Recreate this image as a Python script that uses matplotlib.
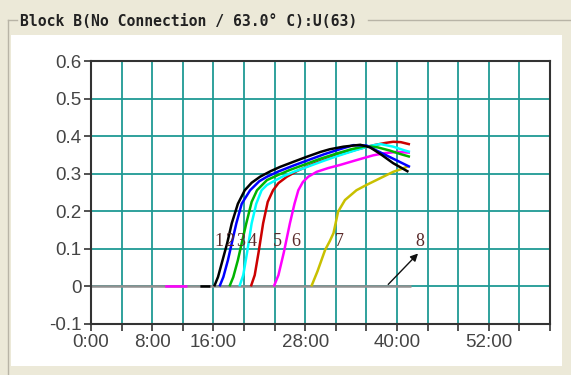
import numpy as np
import matplotlib
matplotlib.use('Agg')
from matplotlib import pyplot as plt
from matplotlib.lines import Line2D
from matplotlib.patches import Rectangle

# 時間 (分) と蛍光値
nan = np.nan
t1 = [14.3, 15.6, nan, 16.1, 16.6, 17.2, 17.8, 18.4, 19.2, 20.1, 21.0, 22.1, 23.5, 24.7, 26.5, 28.2,
      30.0, 31.2, 33.0, 35.2, 36.5, 38.0, 39.5, 41.5]
v1 = [0.0, 0.0, nan, 0.0, 0.025, 0.07, 0.115, 0.168, 0.22, 0.256, 0.276, 0.292, 0.307, 0.318, 0.332, 0.345,
      0.358, 0.365, 0.372, 0.377, 0.37, 0.35, 0.328, 0.305]
t2 = [16.8, 17.3, 17.9, 18.4, 19.0, 19.7, 20.8, 22.0, 23.0, 24.5, 26.5, 28.5, 30.5, 32.5, 34.3,
      36.0, 37.5, 39.0, 40.5, 41.7]
v2 = [0.0, 0.025, 0.07, 0.115, 0.168, 0.22, 0.256, 0.28, 0.292, 0.306, 0.322, 0.337, 0.352, 0.365, 0.376,
      0.375, 0.36, 0.345, 0.33, 0.318]
t3 = [18.1, 18.6, 19.2, 19.7, 20.3, 21.0, 21.7, 23.0, 24.5, 26.0, 28.0, 30.0, 32.0, 34.0, 36.0,
      37.5, 39.0, 40.5, 41.7]
v3 = [0.0, 0.025, 0.07, 0.115, 0.168, 0.225, 0.256, 0.283, 0.297, 0.31, 0.325, 0.34, 0.353, 0.365, 0.374,
      0.37, 0.362, 0.352, 0.345]
t4 = [19.4, 19.9, 20.4, 21.0, 21.6, 22.3, 23.0, 23.8, 25.0, 26.5, 28.5, 30.5, 32.5, 34.5, 36.5,
      37.8, 39.5, 41.0, 41.7]
v4 = [0.0, 0.03, 0.09, 0.168, 0.22, 0.256, 0.27, 0.279, 0.292, 0.305, 0.32, 0.335, 0.349, 0.362, 0.374,
      0.379, 0.372, 0.362, 0.358]
t5 = [20.9, 21.4, 21.9, 22.5, 23.1, 23.8, 24.5, 25.6, 27.0, 29.1, 31.0, 33.0, 35.0, 37.0, 38.5,
      39.5, 40.5, 41.7]
v5 = [0.0, 0.03, 0.09, 0.168, 0.225, 0.256, 0.275, 0.292, 0.308, 0.327, 0.341, 0.354, 0.366, 0.376, 0.382,
      0.385, 0.384, 0.378]
t6 = [9.7, 12.6, nan, 23.9, 24.5, 25.2, 26.0, 26.6, 27.1, 27.7, 28.4, 29.5, 31.0, 32.5, 34.5, 36.9,
      38.5, 40.0, 41.7]
v6 = [0.0, 0.0, nan, 0.0, 0.03, 0.09, 0.168, 0.22, 0.256, 0.278, 0.292, 0.305, 0.315, 0.323, 0.335, 0.349,
      0.355, 0.358, 0.356]
t7 = [28.8, 29.6, 30.6, 31.2, 31.7, 32.3, 33.2, 34.7, 36.0, 37.3, 38.5, 39.5, 40.5, 41.5]
v7 = [0.0, 0.04, 0.097, 0.12, 0.142, 0.199, 0.23, 0.256, 0.27, 0.283, 0.295, 0.305, 0.312, 0.32]
t8 = [0.0, 41.8]
v8 = [0.0, 0.0]

colors = ['#000000', '#0000ff', '#00b400', '#00ffff', '#cc0000', '#ff00ff', '#c8c000', '#909090']

# 番号ラベル
label_text = ['1', '2', '3', '4', '5', '6', '7', '8']
label_t = [16.7, 18.2, 19.5, 21.0, 24.4, 26.7, 32.4, 43.0]
label_v = [0.119, 0.119, 0.119, 0.119, 0.119, 0.119, 0.119, 0.119]

xticks = list(range(0, 61, 4))
xticklabels = {0: '0:00', 8: '8:00', 16: '16:00', 28: '28:00', 40: '40:00', 52: '52:00'}
yticks = [-0.1, 0, 0.1, 0.2, 0.3, 0.4, 0.5, 0.6]
yticklabels = ['-0.1', '0', '0.1', '0.2', '0.3', '0.4', '0.5', '0.6']
title = 'Block B(No Connection / 63.0° C):U(63)'

W, H = 571, 375
fig = plt.figure(figsize=(W / 100, H / 100), dpi=100)
fig.patch.set_facecolor('#ECE9D8')


def fx(x):
    return x / W


def fy(y):
    return 1 - y / H


# 白い領域とグループ枠
fig.patches.append(Rectangle((fx(11), fy(366)), fx(562) - fx(11), fy(35) - fy(366),
                             transform=fig.transFigure, facecolor='white', edgecolor='none', zorder=-5))
frame = '#B8B4A6'
fig.lines.append(Line2D([fx(8), fx(8)], [fy(20), fy(375)], transform=fig.transFigure, color=frame, lw=1))
fig.lines.append(Line2D([fx(8), fx(17)], [fy(20), fy(20)], transform=fig.transFigure, color=frame, lw=1))
fig.lines.append(Line2D([fx(368), fx(571)], [fy(20), fy(20)], transform=fig.transFigure, color=frame, lw=1))
fig.text(fx(20), fy(22), title, family='DejaVu Sans Mono', weight='bold', fontsize=10.6,
         va='center', ha='left', color='#222222')

ax = fig.add_axes([fx(91), fy(324), fx(550) - fx(91), fy(61) - fy(324)])
ax.set_zorder(5)
ax.set_facecolor('white')
ax.set_xlim(0, 60)
ax.set_ylim(-0.1, 0.6)

ax.grid(True, color='#1f9a94', lw=1.3)
ax.set_axisbelow(True)

series = [(t8, v8), (t7, v7), (t6, v6), (t5, v5), (t4, v4), (t3, v3), (t2, v2), (t1, v1)]
for (t, v), c in zip(series, colors[::-1]):
    ax.plot(t, v, color=c, lw=1.8, solid_capstyle='butt')

for s, t, v in zip(label_text, label_t, label_v):
    ax.text(t, v, s, family='Liberation Serif', fontsize=13, color='#5a2a2a',
            ha='center', va='center')

ax.annotate('', xy=(43.0, 0.093), xytext=(38.6, 0.0),
            arrowprops=dict(arrowstyle='-|>', color='#111111', lw=1, mutation_scale=11))

ax.set_xticks(xticks)
ax.set_xticklabels([xticklabels.get(t, '') for t in xticks])
ax.set_yticks(yticks)
ax.set_yticklabels(yticklabels)
ax.tick_params(direction='out', length=5, width=1.2, color='#333333', pad=2,
               labelsize=13.5, labelcolor='#444444')
for lab in ax.get_xticklabels() + ax.get_yticklabels():
    lab.set_family('Liberation Sans')
for sp in ax.spines.values():
    sp.set_color('#333333')
    sp.set_linewidth(1.5)

fig.savefig('out.png', dpi=100, facecolor=fig.get_facecolor())
